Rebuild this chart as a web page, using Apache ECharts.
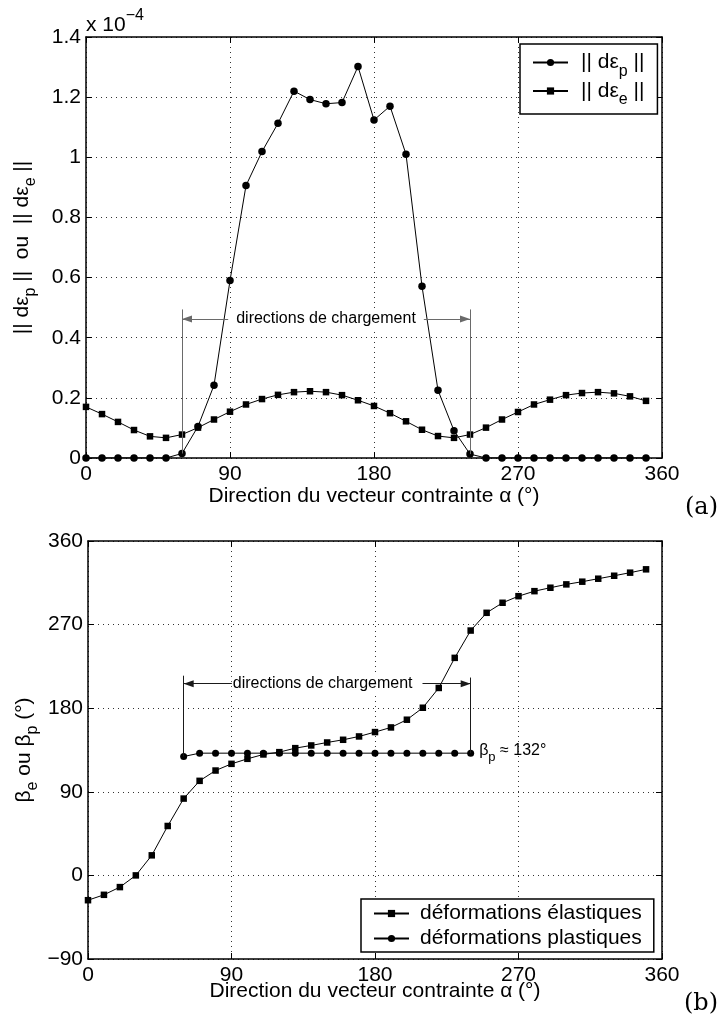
<!DOCTYPE html>
<html>
<head>
<meta charset="utf-8">
<title>Directions de chargement</title>
<script src="https://cdn.jsdelivr.net/npm/echarts@6/dist/echarts.min.js"></script>
<style>
    html, body { margin: 0; padding: 0; background: #fff; }
    #chart { width: 718px; height: 1021px; }
</style>
</head>
<body>
<div id="chart"></div>
<script>
// direction du vecteur contrainte alpha (°)
const alphaAll = [0, 10, 20, 30, 40, 50, 60, 70, 80, 90, 100, 110, 120, 130, 140, 150, 160, 170,
    180, 190, 200, 210, 220, 230, 240, 250, 260, 270, 280, 290, 300, 310, 320, 330, 340, 350];

// (a) normes des increments, unite 1e-4
const dEpsP = [0, 0, 0, 0, 0, 0, 0.015, 0.105, 0.242, 0.59, 0.906, 1.019, 1.113, 1.22, 1.192, 1.178, 1.182, 1.302,
    1.124, 1.17, 1.01, 0.571, 0.225, 0.091, 0.013, 0, 0, 0, 0, 0, 0, 0, 0, 0, 0, 0];
const dEpsE = [0.170, 0.146, 0.120, 0.093, 0.072, 0.067, 0.078, 0.101, 0.128, 0.154, 0.178, 0.196, 0.210, 0.219, 0.222, 0.219, 0.209, 0.192,
    0.173, 0.149, 0.122, 0.094, 0.073, 0.067, 0.078, 0.101, 0.128, 0.153, 0.178, 0.194, 0.209, 0.216, 0.219, 0.215, 0.205, 0.190];

// (b) directions beta (°)
const betaE = [-26.7, -20.9, -12.6, 0, 21.6, 53.2, 82.7, 101.8, 112.9, 120.1, 125.5, 130.2, 132.7, 137, 139.9, 143.1, 146, 149.6,
    154.3, 159.3, 167.6, 180.5, 201.8, 234.2, 263.6, 282.7, 293.5, 300.6, 306, 309.7, 313.3, 316.2, 319.4, 322.6, 325.9, 329.5];
const alphaPlast = [60, 70, 80, 90, 100, 110, 120, 130, 140, 150, 160, 170, 180, 190, 200, 210, 220, 230, 240];
const betaP = [128, 131.6, 131.6, 131.6, 131.6, 131.6, 131.6, 131.6, 131.6, 131.6, 131.6, 131.6, 131.6, 131.6, 131.6, 131.6, 131.6, 131.6, 131.6];

// axis ticks
const xTicks = { min: 0, max: 360, interval: 90 };
const yTicksA = { min: 0, max: 1.4, interval: 0.2 };
const yTicksB = { min: -90, max: 360, interval: 90 };

// zone des directions de chargement
const loadStart = 60;
const loadEnd = 240;

const FONT = 'Liberation Sans';
const FS = 21;

const rich = {
    a: { fontFamily: FONT, fontSize: FS, color: '#000' },
    s: { fontFamily: FONT, fontSize: 16, color: '#000', padding: [18, 0, 0, 0] }
};

const nameP = '|| dεp ||';
const nameE = '|| dεe ||';
const nameEl = 'déformations élastiques';
const namePl = 'déformations plastiques';
const legendText = {};
legendText[nameP] = '{a||| dε}{s|p}{a| ||}';
legendText[nameE] = '{a||| dε}{s|e}{a| ||}';

const mainX = (grid, gap) => ({
    type: 'value', gridIndex: grid, position: 'bottom',
    min: xTicks.min, max: xTicks.max, interval: xTicks.interval,
    name: 'Direction du vecteur contrainte α (°)', nameLocation: 'middle', nameGap: gap,
    nameMoveOverlap: false,
    nameTextStyle: { fontFamily: FONT, fontSize: FS, color: '#000' },
    axisLine: { show: true, onZero: false, lineStyle: { color: '#000', width: 1.5 } },
    axisTick: { show: true, inside: true, length: 6, lineStyle: { color: '#000', width: 1 } },
    axisLabel: { fontFamily: FONT, fontSize: FS, color: '#000', margin: 6 },
    splitLine: { show: true, lineStyle: { color: '#333', width: 1, type: [1, 4] } }
});

const boxAxis = (grid, pos, t) => ({
    type: 'value', gridIndex: grid, position: pos,
    min: t.min, max: t.max, interval: t.interval,
    axisLine: { show: true, onZero: false, lineStyle: { color: '#000', width: 1.5 } },
    axisTick: { show: true, inside: true, length: 6, lineStyle: { color: '#000', width: 1 } },
    axisLabel: { show: false },
    splitLine: { show: false }
});

const mainY = (grid, t, name, fmt) => ({
    type: 'value', gridIndex: grid, position: 'left',
    min: t.min, max: t.max, interval: t.interval,
    name: name, nameLocation: 'middle', nameGap: 47, nameRotate: 90,
    nameMoveOverlap: false,
    nameTextStyle: { rich: rich },
    axisLine: { show: true, onZero: false, lineStyle: { color: '#000', width: 1.5 } },
    axisTick: { show: true, inside: true, length: 6, lineStyle: { color: '#000', width: 1 } },
    axisLabel: { fontFamily: FONT, fontSize: FS, color: '#000', margin: 5, formatter: fmt },
    splitLine: { show: true, lineStyle: { color: '#333', width: 1, type: [1, 4] } }
});

const arrowLabel = (pad) => ({
    show: true, position: 'insideMiddle', formatter: 'directions de chargement',
    fontFamily: FONT, fontSize: 16, color: '#000', backgroundColor: '#fff', padding: pad
});
const arrowEnd = { symbol: 'triangle', symbolSize: [7, 10], symbolOffset: [0, 5] };

const option = {
    animation: false,
    backgroundColor: '#fff',
    grid: [
        { left: 86, top: 37, width: 576, height: 421, outerBoundsMode: 'none' },
        { left: 88, top: 541, width: 574, height: 418, outerBoundsMode: 'none' }
    ],
    xAxis: [
        mainX(0, 28),
        boxAxis(0, 'top', xTicks),
        mainX(1, 22),
        boxAxis(1, 'top', xTicks)
    ],
    yAxis: [
        mainY(0, yTicksA, '{a||| dε}{s|p}{a| ||  ou  || dε}{s|e}{a| ||}', v => String(v)),
        boxAxis(0, 'right', yTicksA),
        mainY(1, yTicksB, '{a|β}{s|e}{a| ou β}{s|p}{a| (°)}', v => String(v).replace('-', '−')),
        boxAxis(1, 'right', yTicksB)
    ],
    legend: [
        {
            left: 520, top: 44, orient: 'vertical',
            data: [nameP, nameE],
            itemWidth: 35, itemHeight: 9, itemGap: 1,
            padding: [8, 13, 6, 12],
            borderColor: '#000', borderWidth: 1.5, backgroundColor: '#fff',
            textStyle: { padding: [0, 0, 0, 8], rich: rich },
            formatter: name => legendText[name]
        },
        {
            left: 361, top: 899, orient: 'vertical',
            data: [nameEl, namePl],
            itemWidth: 35, itemHeight: 9, itemGap: 4,
            padding: [4, 12, 3, 12],
            borderColor: '#000', borderWidth: 1.5, backgroundColor: '#fff',
            textStyle: { fontFamily: FONT, fontSize: FS, color: '#000', padding: [0, 0, 0, 6] }
        }
    ],
    graphic: [
        {
            type: 'text', x: 86, y: 25,
            style: {
                text: '{a|x 10}{s|−4}', verticalAlign: 'middle', align: 'left',
                rich: {
                    a: { fontFamily: FONT, fontSize: FS, fill: '#000' },
                    s: { fontFamily: FONT, fontSize: 16, fill: '#000', padding: [0, 0, 18, 0] }
                }
            }
        },
        {
            type: 'text', x: 685, y: 508,
            style: { text: '(a)', font: '24px "DejaVu Serif"', fill: '#000', verticalAlign: 'middle' }
        },
        {
            type: 'text', x: 684, y: 1004,
            style: { text: '(b)', font: '24px "DejaVu Serif"', fill: '#000', verticalAlign: 'middle' }
        }
    ],
    series: [
        {
            name: nameP, type: 'line', xAxisIndex: 0, yAxisIndex: 0,
            data: alphaAll.map((a, i) => [a, dEpsP[i]]),
            symbol: 'circle', symbolSize: 7.5, showAllSymbol: true,
            lineStyle: { color: '#000', width: 1 }, itemStyle: { color: '#000' },
            z: 3,
            markLine: {
                silent: true, symbol: ['none', 'none'],
                lineStyle: { color: '#6a6a6a', width: 1, type: 'solid' },
                label: { show: false },
                data: [
                    [{ coord: [loadStart, 0.494] }, { coord: [loadStart, dEpsP[6]] }],
                    [{ coord: [loadEnd, 0.494] }, { coord: [loadEnd, dEpsP[24]] }],
                    [
                        Object.assign({ coord: [loadStart, 0.462], label: arrowLabel([1, 8]) }, arrowEnd),
                        Object.assign({ coord: [loadEnd, 0.462] }, arrowEnd)
                    ]
                ]
            }
        },
        {
            name: nameE, type: 'line', xAxisIndex: 0, yAxisIndex: 0,
            data: alphaAll.map((a, i) => [a, dEpsE[i]]),
            symbol: 'rect', symbolSize: 6.5, showAllSymbol: true,
            lineStyle: { color: '#000', width: 1 }, itemStyle: { color: '#000' },
            z: 2
        },
        {
            name: nameEl, type: 'line', xAxisIndex: 2, yAxisIndex: 2,
            data: alphaAll.map((a, i) => [a, betaE[i]]),
            symbol: 'rect', symbolSize: 6.5, showAllSymbol: true,
            lineStyle: { color: '#000', width: 1 }, itemStyle: { color: '#000' },
            z: 2
        },
        {
            name: namePl, type: 'line', xAxisIndex: 2, yAxisIndex: 2,
            data: alphaPlast.map((a, i) => {
                const item = { value: [a, betaP[i]] };
                if (i === alphaPlast.length - 1) {
                    item.label = {
                        show: true, position: 'right', distance: 5, offset: [0, -3],
                        formatter: '{a|β}{s|p}{a| ≈ 132°}',
                        rich: {
                            a: { fontFamily: FONT, fontSize: 16, color: '#000' },
                            s: { fontFamily: FONT, fontSize: 13, color: '#000', padding: [14, 0, 0, 0] }
                        }
                    };
                }
                return item;
            }),
            symbol: 'circle', symbolSize: 7, showAllSymbol: true,
            lineStyle: { color: '#000', width: 1 }, itemStyle: { color: '#000' },
            z: 3,
            markLine: {
                silent: true, symbol: ['none', 'none'],
                lineStyle: { color: '#1a1a1a', width: 1, type: 'solid' },
                label: { show: false },
                data: [
                    [{ coord: [loadStart, 215] }, { coord: [loadStart, betaP[0]] }],
                    [{ coord: [loadEnd, 213] }, { coord: [loadEnd, betaP[betaP.length - 1]] }],
                    [
                        Object.assign({ coord: [loadStart, 206.4], label: arrowLabel([1, 10, 1, 1]) }, arrowEnd),
                        Object.assign({ coord: [loadEnd, 206.4] }, arrowEnd)
                    ]
                ]
            }
        }
    ]
};

const chart = echarts.init(document.getElementById('chart'));
chart.setOption(option);
</script>
</body>
</html>
